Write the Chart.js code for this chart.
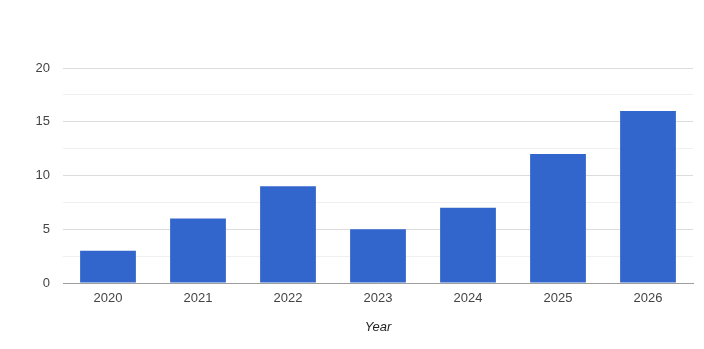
<!DOCTYPE html>
<html>
<head>
<meta charset="utf-8">
<script src="https://cdn.jsdelivr.net/npm/chart.js@4/dist/chart.umd.min.js"></script>
<style>
  html, body { margin: 0; padding: 0; background: #fff; }
  #wrap { width: 704px; height: 349px; }
</style>
</head>
<body>
<div id="wrap"><canvas id="yearChart" width="704" height="349"></canvas></div>
<script>
const years = ["2020", "2021", "2022", "2023", "2024", "2025", "2026"];
const values = [3, 6, 9, 5, 7, 12, 16];
const yTicks = [0, 5, 10, 15, 20];

const ctx = document.getElementById("yearChart").getContext("2d");
const yearChart = new Chart(ctx, {
    type: "bar",
    data: {
        labels: years,
        datasets: [
            {
                label: "Value",
                data: values,
                backgroundColor: "#3366cc",
                borderWidth: 0,
                categoryPercentage: 1,
                barPercentage: 0.62,
            },
        ],
    },
    options: {
        responsive: false,
        animation: false,
        layout: { padding: { left: 0, right: 11, top: 68, bottom: 0 } },
        plugins: {
            legend: { display: false },
            tooltip: { enabled: false },
        },
        scales: {
            x: {
                grid: { display: false, drawTicks: false },
                border: { color: "#9e9e9e", width: 1, z: 1 },
                ticks: {
                    color: "#444",
                    padding: 8,
                    font: { family: "Liberation Sans", size: 13 },
                },
                title: {
                    display: true,
                    text: "Year",
                    color: "#222",
                    padding: { top: 4, bottom: 14 },
                    font: { family: "Liberation Sans", size: 13, style: "italic" },
                },
                afterFit: (scale) => { scale.height = 66; },
            },
            y: {
                min: 0,
                max: 20,
                border: { display: false },
                grid: {
                    drawTicks: false,
                    color: (c) => (yTicks.includes(c.tick.value) ? "#dcdcdc" : "#f0f0f0"),
                },
                ticks: {
                    stepSize: 2.5,
                    padding: 13,
                    color: "#444",
                    font: { family: "Liberation Sans", size: 13 },
                    callback: (v) => (yTicks.includes(v) ? v : ""),
                },
                afterFit: (scale) => { scale.width = 63; },
            },
        },
    },
});
</script>
</body>
</html>
